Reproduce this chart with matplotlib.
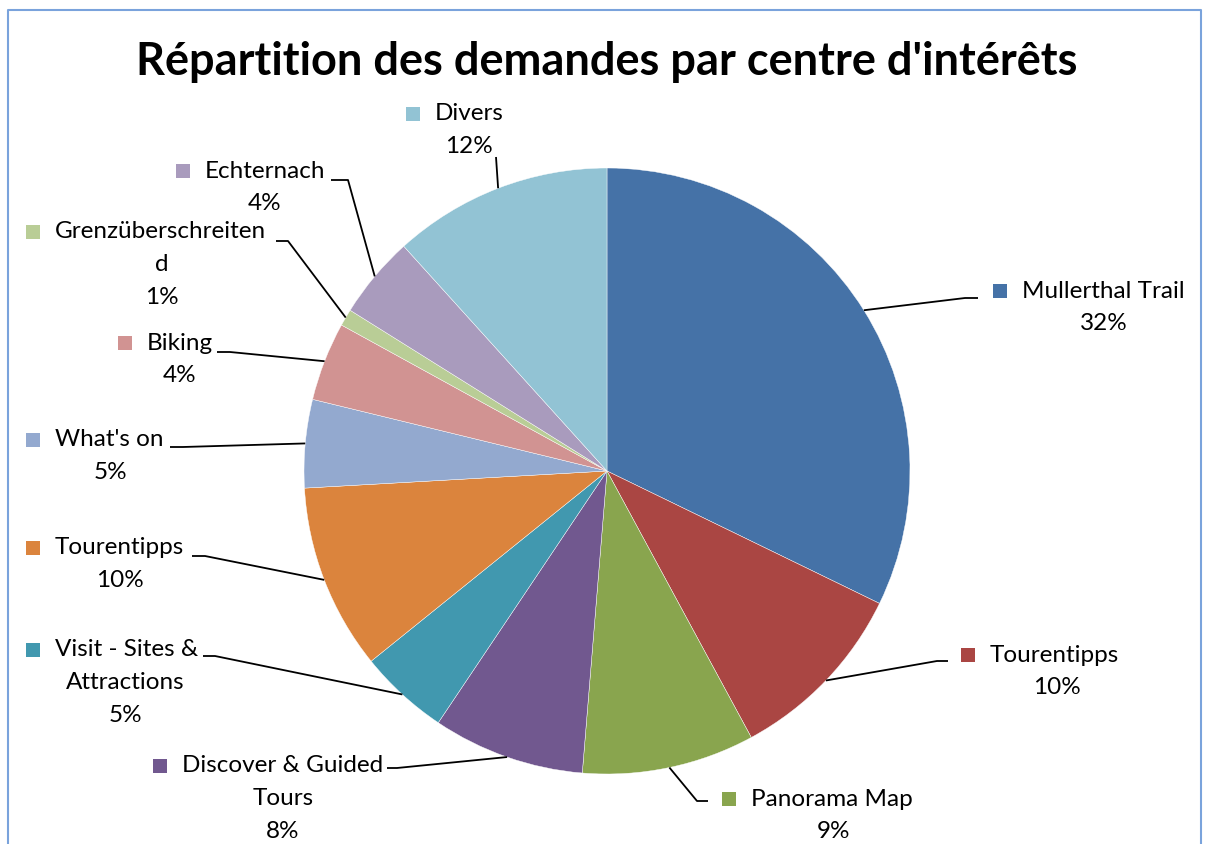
import numpy as np
import matplotlib.pyplot as plt
from matplotlib.patches import Rectangle

# data (clockwise from 12 o'clock)
categories = ["Mullerthal Trail", "Tourentipps", "Panorama Map",
              "Discover & Guided Tours", "Visit - Sites & Attractions",
              "Tourentipps", "What's on", "Biking", "Grenzüberschreitend",
              "Echternach", "Divers"]
shares = [32.2, 9.9, 9.2, 8.1, 4.8, 9.9, 4.7, 4.2, 0.9, 4.4, 11.7]
pct_labels = ["32%", "10%", "9%", "8%", "5%", "10%", "5%", "4%", "1%", "4%", "12%"]
colors = ["#4572A7", "#AA4643", "#89A54E", "#71588F", "#4198AF", "#DB843D",
          "#93A9CF", "#D19392", "#B9CD96", "#A99BBD", "#92C3D4"]

# label layout, in pixels (y measured from top)
# (first line, extra lines, square x, first line y, centre x of extra lines, elbow, end)
layout = [
    ("Mullerthal Trail", [], 1000, 291, 1104, (965, 298), (978, 298)),
    ("Tourentipps", [], 968, 655, 1057, (937, 661), (948, 661)),
    ("Panorama Map", [], 729, 799, 833, (697, 801), (708, 801)),
    ("Discover & Guided", ["Tours"], 160, 766, 283, (397, 768), (387, 768)),
    ("Visit - Sites &", ["Attractions"], 33, 650, 125, (215, 656), (203, 656)),
    ("Tourentipps", [], 33, 548, 120, (205, 556), (192, 556)),
    ("What's on", [], 33, 440, 110, (183, 447), (170, 447)),
    ("Biking", [], 125, 343, 180, (230, 352), (217, 352)),
    ("Grenzüberschreiten", ["d"], 33, 232, 162, (288, 241), (276, 241)),
    ("Echternach", [], 183, 171, 265, (348, 180), (331, 180)),
    ("Divers", [], 413, 114, 469, (496, 157), (496, 157)),
]

W, H = 1205, 844
cx, cy, r = 607, 471, 303
font = "Lato"
fs = 17.5
line_h = 32.5

fig = plt.figure(figsize=(W / 100, H / 100), dpi=100)
ax = fig.add_axes([0, 0, 1, 1])
ax.set_xlim(0, W)
ax.set_ylim(0, H)
ax.set_aspect("equal")
ax.axis("off")


def py(y):
    return H - y


wedges, _ = ax.pie(shares, colors=colors, startangle=90, counterclock=False,
                   center=(cx, py(cy)), radius=r, frame=False,
                   wedgeprops=dict(linewidth=0.3, edgecolor="white"))
ax.set_xlim(0, W)
ax.set_ylim(0, H)

for w, col, pct, (first, extra, sx, ly, mx, elbow, end) in zip(
        wedges, colors, pct_labels, layout):
    ang = np.deg2rad((w.theta1 + w.theta2) / 2)
    px = cx + r * np.cos(ang)
    pyy = py(cy) + r * np.sin(ang)
    ax.plot([px, elbow[0], end[0]], [pyy, py(elbow[1]), py(end[1])],
            color="black", lw=1.3, solid_capstyle="butt")
    ax.add_patch(Rectangle((sx - 7, py(ly) - 7), 14, 14, color=col, lw=0))
    ax.text(sx + 22, py(ly), first, fontsize=fs, family=font,
            ha="left", va="center")
    lines = extra + [pct]
    for i, t in enumerate(lines):
        ax.text(mx, py(ly + line_h * (i + 1)), t, fontsize=fs, family=font,
                ha="center", va="center")

ax.text(607, py(62), "Répartition des demandes par centre d'intérêts",
        fontsize=32.5, fontweight="bold", family=font, ha="center", va="center")

# chart frame
ax.plot([8, 8, 1201, 1201], [0, py(10), py(10), 0], color="#7AA3DC",
        lw=1.5, clip_on=False)

fig.savefig("out.png", dpi=100)
